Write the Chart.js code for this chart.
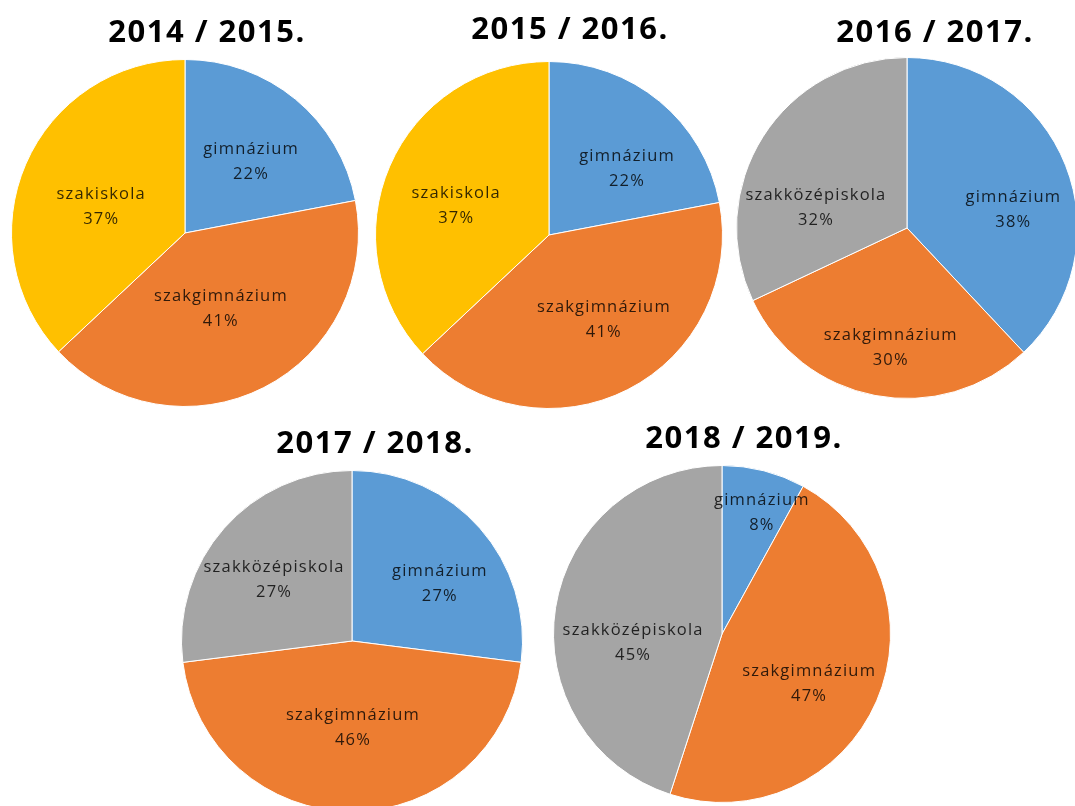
<!DOCTYPE html>
<html lang="hu">
<head>
<meta charset="utf-8">
<title>Tanulók megoszlása iskolatípusonként</title>
<script src="https://cdn.jsdelivr.net/npm/chart.js@4.4.1/dist/chart.umd.min.js"></script>
<style>
  html, body { margin: 0; padding: 0; background: #fff; }
  body { width: 1075px; height: 806px; overflow: hidden; position: relative; }
  .pie { position: absolute; }
</style>
</head>
<body>
<div class="pie" id="p0"><canvas id="c0"></canvas></div>
<div class="pie" id="p1"><canvas id="c1"></canvas></div>
<div class="pie" id="p2"><canvas id="c2"></canvas></div>
<div class="pie" id="p3"><canvas id="c3"></canvas></div>
<div class="pie" id="p4"><canvas id="c4"></canvas></div>
<script>
const YEARS = ['2014 / 2015.', '2015 / 2016.', '2016 / 2017.', '2017 / 2018.', '2018 / 2019.'];

const LABELS_OLD = ['gimnázium', 'szakgimnázium', 'szakiskola'];
const LABELS_NEW = ['gimnázium', 'szakgimnázium', 'szakközépiskola'];

const VALUES_1415 = [22, 41, 37];
const VALUES_1516 = [22, 41, 37];
const VALUES_1617 = [38, 30, 32];
const VALUES_1718 = [27, 46, 27];
const VALUES_1819 = [8, 47, 45];

const COLORS_OLD = ['#5B9BD5', '#ED7D31', '#FFC000'];
const COLORS_NEW = ['#5B9BD5', '#ED7D31', '#A5A5A5'];

// placement on the page: pie centre + radius, title centre x + baseline,
// and small per-slice label nudges (Excel "best fit" doesn't sit exactly on the bisector)
const LAYOUT = [
  { cx: 185, cy: 233, r: 173, tx: 207, ty: 42, shift: [[3, 5], [-9, -12], [7, 13]] },
  { cx: 549, cy: 235, r: 173, tx: 570, ty: 39, shift: [[15, 10], [10, -3], [-2, 10]] },
  { cx: 907, cy: 228, r: 170, tx: 935, ty: 42, shift: [[16, 18], [2, 24], [-9, 32]] },
  { cx: 352, cy: 641, r: 170, tx: 375, ty: 453, shift: [[15, 7], [1, -10], [-5, 3]] },
  { cx: 722, cy: 634, r: 168, tx: 744, ty: 448, shift: [[16, -28], [-1, 12], [6, 24]] },
];

const $ = (id) => document.getElementById(id);

const sliceLabels = {
  id: 'sliceLabels',
  afterDatasetsDraw(chart, args, opts) {
    const { ctx } = chart;
    const meta = chart.getDatasetMeta(0);
    const values = chart.data.datasets[0].data;
    const shift = opts.shift || [];
    ctx.save();
    ctx.font = opts.font;
    ctx.fillStyle = opts.color;
    ctx.textAlign = 'center';
    ctx.textBaseline = 'middle';
    if ('letterSpacing' in ctx) ctx.letterSpacing = opts.spacing;
    meta.data.forEach((arc, i) => {
      const p = arc.getProps(['x', 'y', 'startAngle', 'endAngle', 'outerRadius'], true);
      const mid = (p.startAngle + p.endAngle) / 2;
      const d = p.outerRadius * opts.dist;
      const [sx, sy] = shift[i] || [0, 0];
      const lx = p.x + Math.cos(mid) * d + sx;
      const ly = p.y + Math.sin(mid) * d + sy;
      ctx.fillText(chart.data.labels[i], lx, ly - opts.gap / 2);
      ctx.fillText(values[i] + '%', lx, ly + opts.gap / 2);
    });
    ctx.restore();
  }
};

// title sits a bit right of the pie centre, like in the original sheet
const yearTitle = {
  id: 'yearTitle',
  afterDraw(chart, args, opts) {
    const { ctx } = chart;
    ctx.save();
    ctx.font = opts.font;
    ctx.fillStyle = '#000';
    ctx.textAlign = 'center';
    ctx.textBaseline = 'alphabetic';
    if ('letterSpacing' in ctx) ctx.letterSpacing = opts.spacing;
    ctx.fillText(opts.text, opts.x, opts.y);
    ctx.restore();
  }
};

function makePie(idx, labels, values, colors){
  const L = LAYOUT[idx];
  const top = L.ty - 34;
  const left = L.cx - L.r - 1;
  const box = $('p' + idx);
  box.style.left = left + 'px';
  box.style.top = top + 'px';
  box.style.width = (2 * L.r + 2) + 'px';
  box.style.height = (L.cy + L.r + 1 - top) + 'px';

  new Chart($('c' + idx), {
    type: 'pie',
    data: {
      labels,
      datasets: [{
        data: values,
        backgroundColor: colors,
        borderColor: '#ffffff',
        borderWidth: 1
      }]
    },
    options: {
      responsive: true,
      maintainAspectRatio: false,
      animation: false,
      layout: { padding: { top: (L.cy - L.r - 1) - top } },
      plugins: {
        legend: { display: false },
        tooltip: { enabled: false },
        title: { display: false },
        yearTitle: {
          text: YEARS[idx],
          x: L.tx - left,
          y: L.ty - top,
          font: 'bold 31px "Open Sans"',
          spacing: '1.5px'
        },
        sliceLabels: {
          font: '16.5px "Open Sans"',
          spacing: '1.2px',
          color: 'rgba(0,0,0,0.8)',
          dist: 0.57,
          gap: 25,
          shift: L.shift
        }
      }
    },
    plugins: [sliceLabels, yearTitle]
  });
}

makePie(0, LABELS_OLD, VALUES_1415, COLORS_OLD);
makePie(1, LABELS_OLD, VALUES_1516, COLORS_OLD);
makePie(2, LABELS_NEW, VALUES_1617, COLORS_NEW);
makePie(3, LABELS_NEW, VALUES_1718, COLORS_NEW);
makePie(4, LABELS_NEW, VALUES_1819, COLORS_NEW);
</script>
</body>
</html>
